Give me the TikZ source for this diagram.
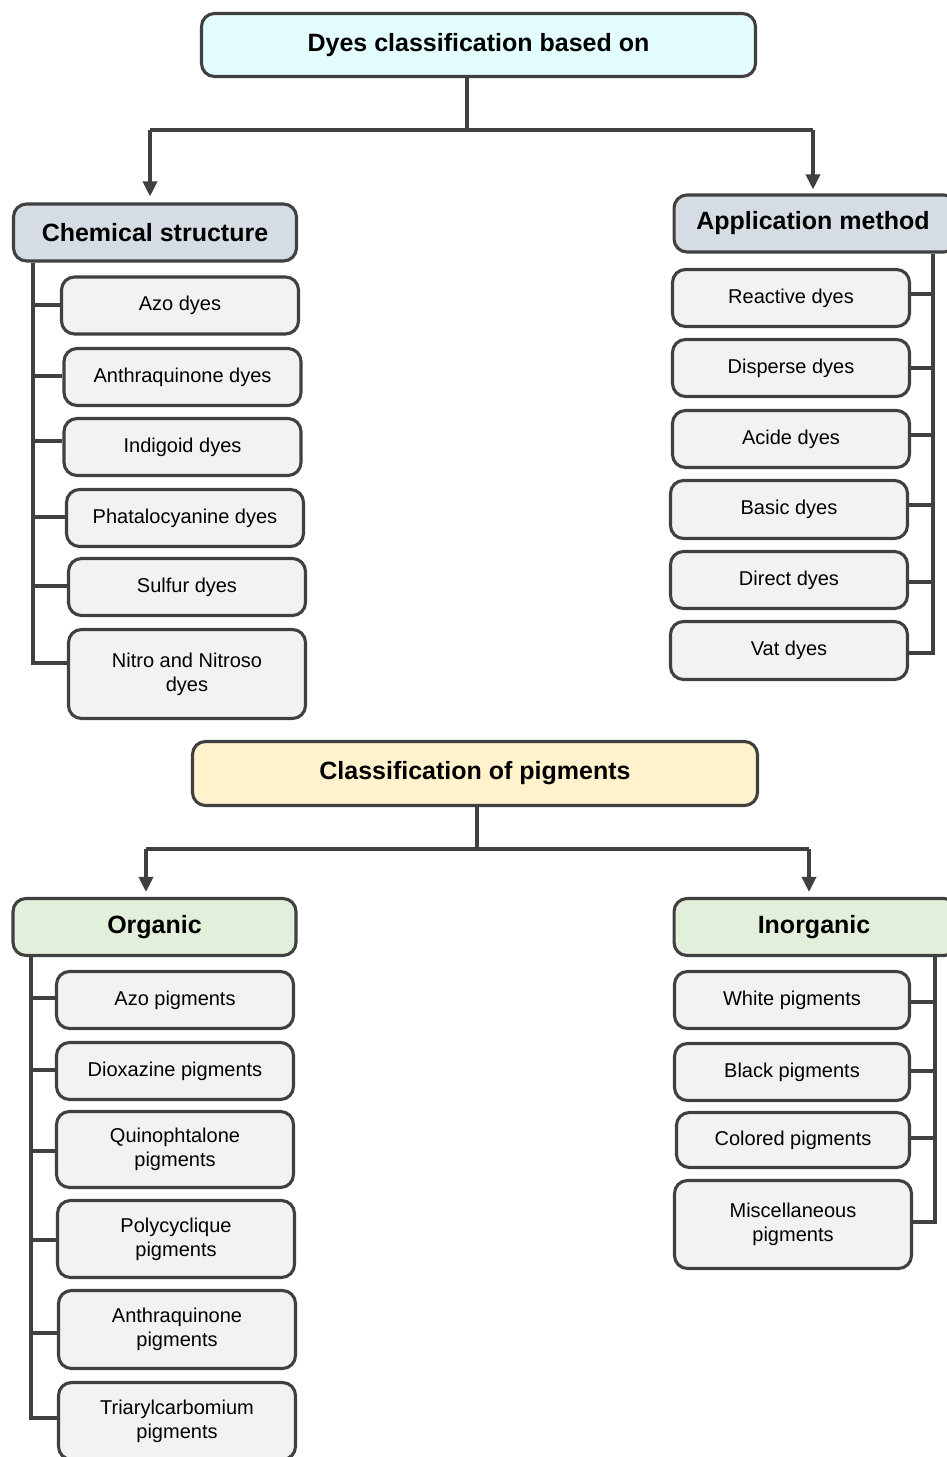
\documentclass[tikz,border=0pt]{standalone}
\usepackage{fontspec}
\setmainfont{Liberation Sans}
\usetikzlibrary{arrows.meta}
\definecolor{ln}{HTML}{404040}
\definecolor{titlefill}{HTML}{E3FCFD}
\definecolor{hdrfill}{HTML}{D6DCE4}
\definecolor{pigfill}{HTML}{FFF2CC}
\definecolor{greenfill}{HTML}{E2EFDA}
\definecolor{itemfill}{HTML}{F2F2F2}
\begin{document}
\begin{tikzpicture}[x=1pt,y=-1pt,
 box/.style={draw=ln, line width=3.1pt, rounded corners=13pt, inner sep=0pt, align=center},
 item/.style={box, fill=itemfill, minimum width=237pt, font=\fontsize{20}{24}\selectfont},
 hdr/.style={box, font=\fontsize{25}{30}\selectfont\bfseries, minimum width=283pt, minimum height=57pt},
 conn/.style={draw=ln, line width=3.4pt},
 arr/.style={conn, -{Triangle[length=15pt,width=14pt]}},
]
\useasboundingbox (0,0) rectangle (947,1457);
\clip (0,0) rectangle (947,1457);
\fill[white] (0,0) rectangle (947,1457);

% ---------- Dyes ----------
\node[box, fill=titlefill, minimum width=554pt, minimum height=63pt, font=\fontsize{25}{30}\selectfont\bfseries] (title) at (478.5,45) {Dyes classification based on};
\node[hdr, fill=hdrfill] (chem) at (155,232.5) {Chemical structure};
\node[hdr, fill=hdrfill, anchor=west] (app) at (672.5,223.5) {\hspace*{0pt}};
\node[font=\fontsize{25}{30}\selectfont\bfseries] (apptxt) at (813,223.5) {Application method};

\coordinate (t0) at (467,130);
\coordinate (tl) at (150,130);
\coordinate (tr) at (813,130);
\draw[conn] (title.south -| t0) -- (t0);
\draw[conn] (tl) -- (tr);
\draw[arr, shorten >=6pt] (tl) -- (tl |- chem.north);
\draw[arr, shorten >=4pt] (tr) -- (tr |- app.north);

% chemical structure items
\node[item, minimum height=57pt] (azo) at (180,305.5) {Azo dyes};
\node[item, minimum height=57pt] (anth) at (182.5,377) {Anthraquinone dyes};
\node[item, minimum height=57pt] (indi) at (182.5,447) {Indigoid dyes};
\node[item, minimum height=57pt] (phat) at (185,518) {Phatalocyanine dyes};
\node[item, minimum height=57pt] (sulf) at (187,587) {Sulfur dyes};
\node[item, minimum height=89pt] (nitro) at (187,674) {Nitro and Nitroso\\dyes};

\coordinate (cs) at (33,663);
\draw[conn] (chem.south -| cs) -- (cs) -- (nitro.west |- cs);
\draw[conn] (cs |- 0,305) -- (azo.west |- 0,305);
\draw[conn] (cs |- 0,376) -- (anth.west |- 0,376);
\draw[conn] (cs |- 0,441) -- (indi.west |- 0,441);
\draw[conn] (cs |- 0,517) -- (phat.west |- 0,517);
\draw[conn] (cs |- 0,586) -- (sulf.west |- 0,586);

% application method items
\node[item, minimum height=57pt] (react) at (791,298) {Reactive dyes};
\node[item, minimum height=57pt] (disp) at (791,368) {Disperse dyes};
\node[item, minimum height=57pt] (acide) at (791,439) {Acide dyes};
\node[item, minimum height=58pt] (basic) at (789,509.5) {Basic dyes};
\node[item, minimum height=57pt] (direct) at (789,580) {Direct dyes};
\node[item, minimum height=58pt] (vat) at (789,650.5) {Vat dyes};

\coordinate (as) at (933,653);
\draw[conn] (app.south -| as) -- (as) -- (vat.east |- as);
\draw[conn] (as |- 0,294) -- (react.east |- 0,294);
\draw[conn] (as |- 0,368) -- (disp.east |- 0,368);
\draw[conn] (as |- 0,435) -- (acide.east |- 0,435);
\draw[conn] (as |- 0,505) -- (basic.east |- 0,505);
\draw[conn] (as |- 0,582) -- (direct.east |- 0,582);

% ---------- Pigments ----------
\node[box, fill=pigfill, minimum width=565pt, minimum height=64pt, font=\fontsize{25}{30}\selectfont\bfseries] (pig) at (475,773.5) {Classification of pigments};
\node[hdr, fill=greenfill] (org) at (154.5,927) {Organic};
\node[hdr, fill=greenfill, anchor=west] (inorg) at (672.5,927) {\hspace*{0pt}};
\node[font=\fontsize{25}{30}\selectfont\bfseries] (inorgtxt) at (814,927) {Inorganic};

\coordinate (p0) at (477,849);
\coordinate (pl) at (146,849);
\coordinate (pr) at (809,849);
\draw[conn] (pig.south -| p0) -- (p0);
\draw[conn] (pl) -- (pr);
\draw[arr, shorten >=5pt] (pl) -- (pl |- org.north);
\draw[arr, shorten >=5pt] (pr) -- (pr |- inorg.north);

% organic items
\node[item, minimum height=57pt] (azop) at (175,1000) {Azo pigments};
\node[item, minimum height=57pt] (diox) at (175,1071) {Dioxazine pigments};
\node[item, minimum height=76pt] (quin) at (175,1149.5) {Quinophtalone\\pigments};
\node[item, minimum height=77pt] (poly) at (176,1239) {Polycyclique\\pigments};
\node[item, minimum height=78pt] (anthp) at (177,1329.5) {Anthraquinone\\pigments};
\node[item, minimum height=77pt] (tri) at (177,1421) {Triarylcarbomium\\pigments};

\coordinate (os) at (31,1418);
\draw[conn] (org.south -| os) -- (os) -- (tri.west |- os);
\draw[conn] (os |- 0,998) -- (azop.west |- 0,998);
\draw[conn] (os |- 0,1070) -- (diox.west |- 0,1070);
\draw[conn] (os |- 0,1151) -- (quin.west |- 0,1151);
\draw[conn] (os |- 0,1240) -- (poly.west |- 0,1240);
\draw[conn] (os |- 0,1333) -- (anthp.west |- 0,1333);

% inorganic items
\node[item, minimum width=235pt, minimum height=57pt] (white) at (792,1000) {White pigments};
\node[item, minimum width=235pt, minimum height=57pt] (black) at (792,1072) {Black pigments};
\node[item, minimum width=233pt, minimum height=55pt] (colored) at (793,1140) {Colored pigments};
\node[item, minimum height=88pt] (misc) at (793,1224.5) {Miscellaneous\\pigments};

\coordinate (is) at (935,1222);
\draw[conn] (inorg.south -| is) -- (is) -- (misc.east |- is);
\draw[conn] (is |- 0,1002) -- (white.east |- 0,1002);
\draw[conn] (is |- 0,1071) -- (black.east |- 0,1071);
\draw[conn] (is |- 0,1138) -- (colored.east |- 0,1138);
\end{tikzpicture}
\end{document}
